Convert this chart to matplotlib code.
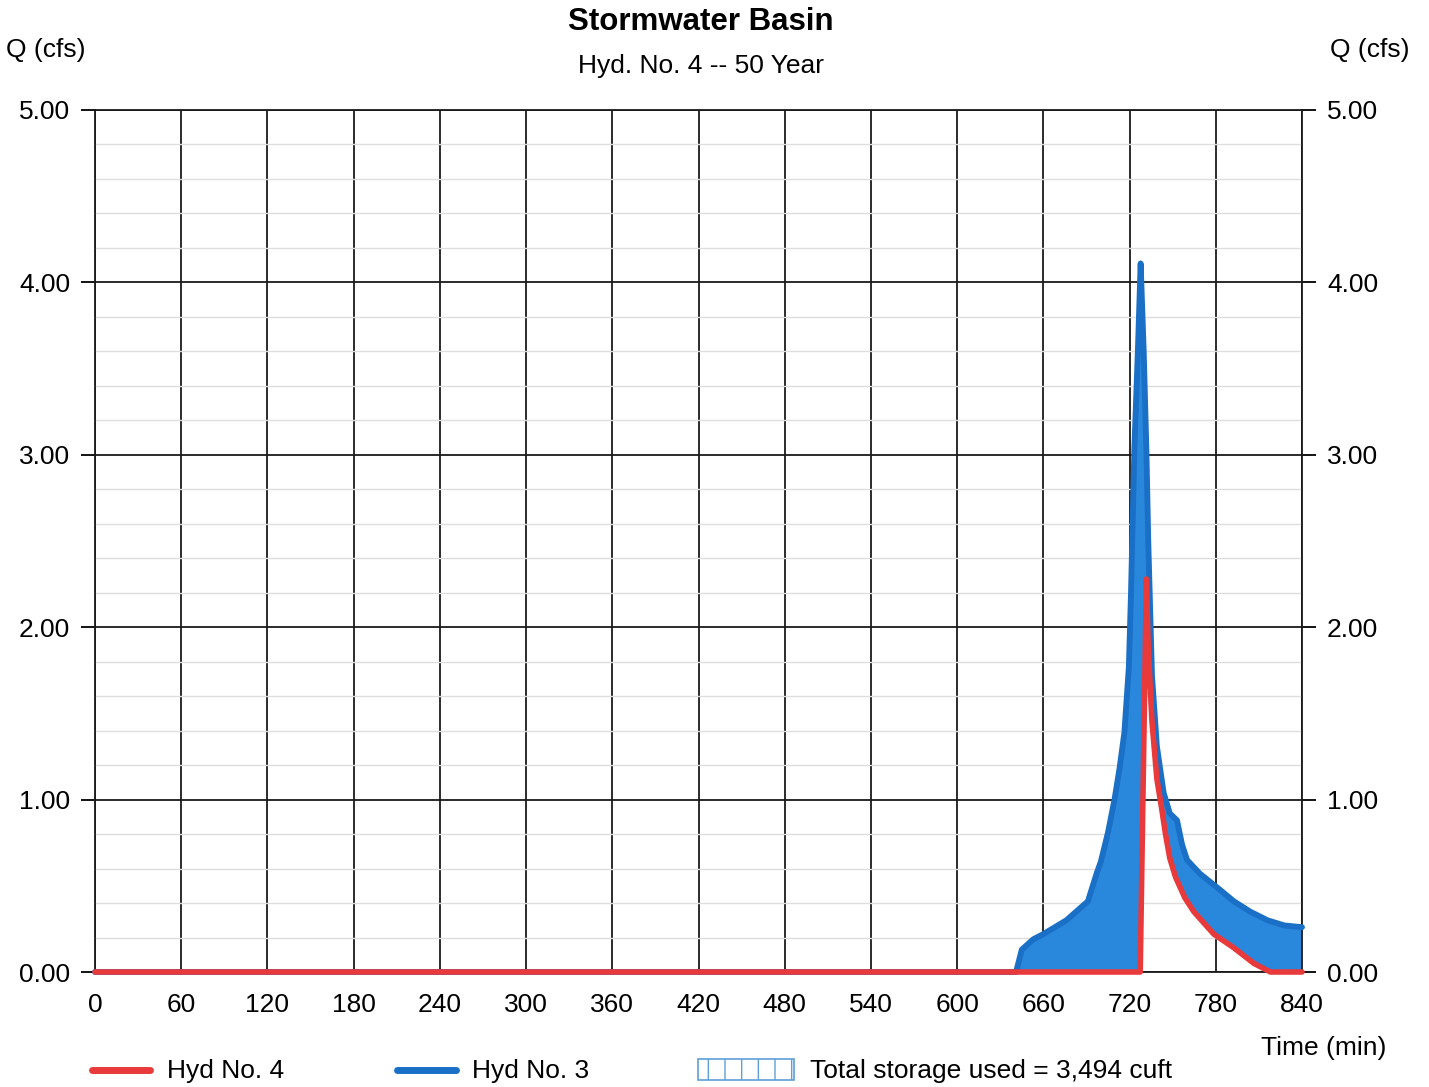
import matplotlib.pyplot as plt
import numpy as np
from matplotlib.lines import Line2D
from matplotlib.patches import Rectangle

# Hyd No. 3 (inflow), time in min, Q in cfs
t3 = [0, 641, 645, 653, 660, 676, 691, 697, 700, 705, 709.5, 713, 716.4, 719.5, 721,
      723.3, 725.8, 727.7, 729.8, 731.7, 733, 735.6, 739, 743.7, 748, 753, 756.5, 760,
      769, 781, 792.6, 804, 816, 827.7, 840]
q3 = [0, 0, 0.13, 0.19, 0.22, 0.30, 0.41, 0.57, 0.64, 0.81, 1.00, 1.18, 1.39, 1.77, 2.20,
      3.03, 3.61, 4.11, 3.61, 3.03, 2.50, 1.72, 1.31, 1.04, 0.92, 0.88, 0.74, 0.65,
      0.57, 0.49, 0.41, 0.35, 0.30, 0.27, 0.26]

# Hyd No. 4 (outflow)
t4 = [0, 727.4, 731.7, 733, 735.6, 739, 742.3, 745, 748, 752, 758.5, 764.7, 778.6, 792.6,
      806.5, 818, 840]
q4 = [0, 0, 2.28, 1.88, 1.45, 1.12, 0.95, 0.80, 0.66, 0.55, 0.43, 0.35, 0.22, 0.14,
      0.05, 0.0, 0.0]

xticks = np.arange(0, 841, 60)
yticks = [0, 1, 2, 3, 4, 5]

blue_fill = '#2a88dc'
blue_line = '#1a6fc6'
red = '#e8393b'

plt.rcParams['font.family'] = ['Liberation Sans', 'DejaVu Sans']
fs = 19

fig = plt.figure(figsize=(14.29, 10.87), dpi=100)
ax = fig.add_axes([95/1429, 1 - 972/1087, 1207/1429, 862/1087])

# storage area between the two hydrographs
ax.fill(np.concatenate([t3, t4[::-1]]), np.concatenate([q3, q4[::-1]]),
        color=blue_fill, lw=0, zorder=2)
ax.plot(t3, q3, color=blue_line, lw=4.2, zorder=3, solid_capstyle='round',
        solid_joinstyle='round', clip_on=False)
ax.plot(t4, q4, color=red, lw=4.0, zorder=4, solid_capstyle='round',
        solid_joinstyle='round', clip_on=False)

ax.set_xlim(0, 840)
ax.set_ylim(0, 5)
ax.set_xticks(xticks)
ax.set_yticks(yticks)
ax.set_yticks(np.arange(0, 5.01, 0.2), minor=True)
ax.set_xticklabels([str(v) for v in xticks], fontsize=fs)
ax.set_yticklabels(['%.2f' % v for v in yticks], fontsize=fs)
ax.grid(True, which='major', color='#1a1a1a', lw=1.3, zorder=1)
ax.grid(True, which='minor', axis='y', color='#dedede', lw=1.0, zorder=0)
ax.set_axisbelow(True)
ax.tick_params(axis='y', which='major', length=10, width=1.3, pad=8,
               left=True, right=True, labelleft=True, labelright=True)
ax.tick_params(axis='y', which='minor', length=0)
ax.tick_params(axis='x', length=0, pad=15)
for s in ax.spines.values():
    s.set_color('#1a1a1a')
    s.set_linewidth(1.3)

fig.text(701/1429, 1 - 22/1087, 'Stormwater Basin', ha='center', va='center',
         fontsize=22.5, fontweight='bold')
fig.text(701/1429, 1 - 66/1087, 'Hyd. No. 4 -- 50 Year', ha='center', va='center', fontsize=fs)
fig.text(46/1429, 1 - 50/1087, 'Q (cfs)', ha='center', va='center', fontsize=fs)
fig.text(1370/1429, 1 - 50/1087, 'Q (cfs)', ha='center', va='center', fontsize=fs)
fig.text(1324/1429, 1 - 1048/1087, 'Time (min)', ha='center', va='center', fontsize=fs)

# legend drawn by hand at the bottom
def fx(px):
    return px / 1429

def fy(py):
    return 1 - py / 1087

fig.add_artist(Line2D([fx(92), fx(150)], [fy(1070), fy(1070)], color=red, lw=5,
                      solid_capstyle='round'))
fig.text(fx(167), fy(1071), 'Hyd No. 4', va='center', fontsize=fs)
fig.add_artist(Line2D([fx(397), fx(456)], [fy(1070), fy(1070)], color=blue_line, lw=5,
                      solid_capstyle='round'))
fig.text(fx(472), fy(1071), 'Hyd No. 3', va='center', fontsize=fs)
fig.add_artist(Rectangle((fx(698), fy(1080)), fx(96), 21/1087, facecolor='white',
                         edgecolor='#5d9fd8', hatch='|', lw=1.2, transform=fig.transFigure))
fig.text(fx(810), fy(1071), 'Total storage used = 3,494 cuft', va='center', fontsize=fs)

fig.savefig('out.png', dpi=100)
